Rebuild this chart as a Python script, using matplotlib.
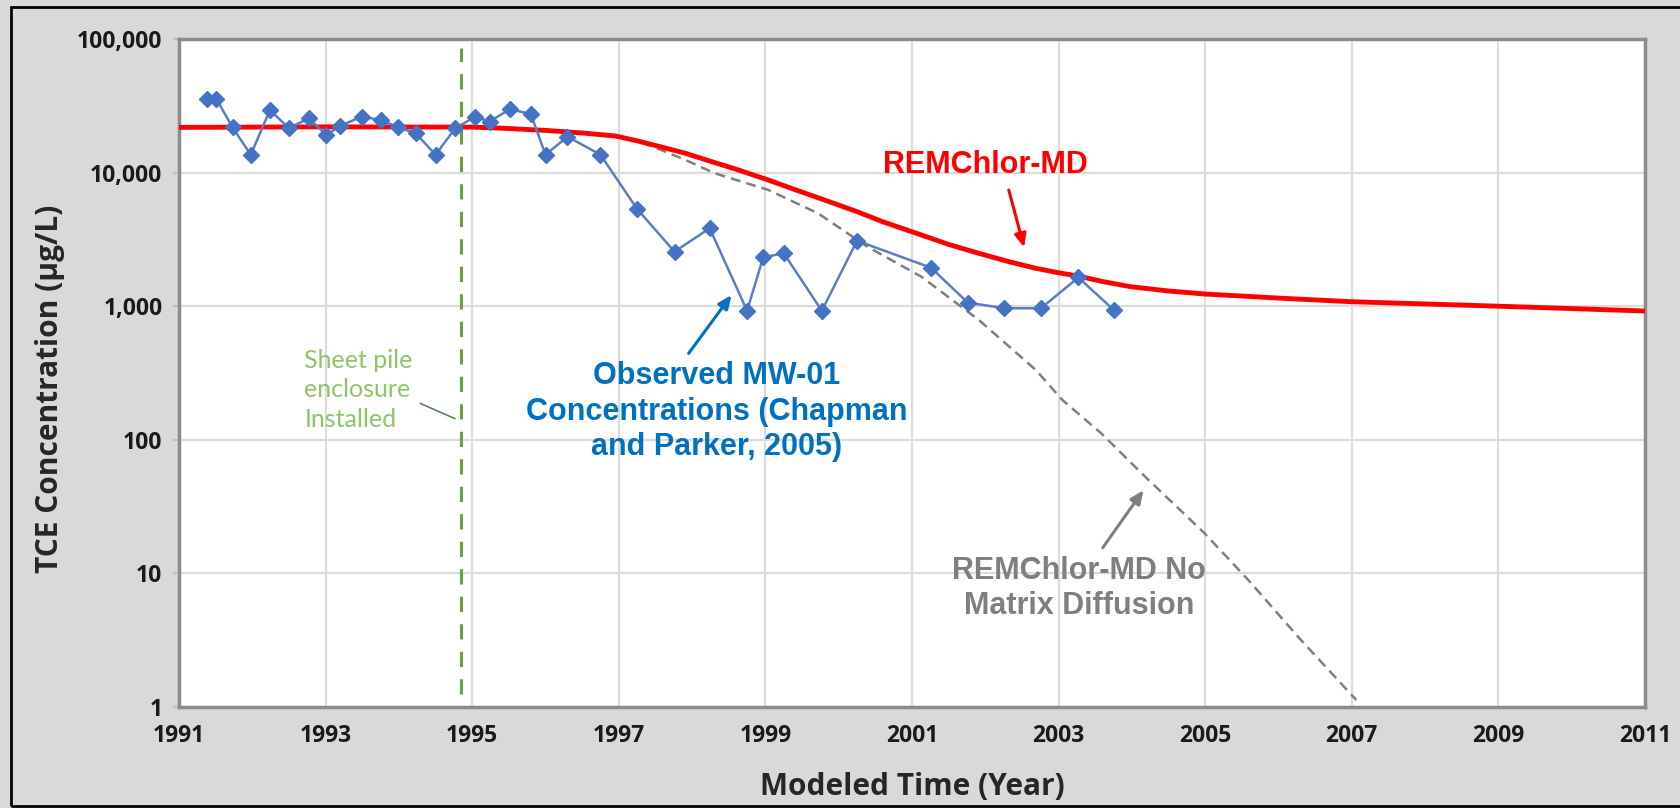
import numpy as np
import matplotlib.pyplot as plt
from matplotlib.patches import Rectangle
from matplotlib.ticker import NullLocator

# observed MW-01 concentrations (ug/L)
obs_year = [1991.38, 1991.51, 1991.73, 1991.98, 1992.24, 1992.50, 1992.77, 1993.01,
            1993.20, 1993.49, 1993.76, 1993.99, 1994.23, 1994.50, 1994.77, 1995.04,
            1995.24, 1995.51, 1995.80, 1996.00, 1996.30, 1996.75, 1997.25, 1997.76,
            1998.24, 1998.75, 1998.97, 1999.25, 1999.77, 2000.25, 2001.26, 2001.76,
            2002.26, 2002.76, 2003.27, 2003.75]
obs_conc = [35600, 35600, 21800, 13600, 29400, 21500, 25500, 19100,
            22400, 26200, 24800, 21800, 19700, 13600, 21500, 26200,
            24100, 29800, 27500, 13600, 18600, 13600, 5340, 2560,
            3830, 925, 2320, 2490, 925, 3090, 1940, 1065,
            965, 965, 1640, 940]

# REMChlor-MD model
md_year = [1991.0, 1993.0, 1995.0, 1995.4, 1996.0, 1996.5, 1996.95, 1997.25, 1997.57,
           1997.9, 1998.20, 1998.6, 1999.04, 1999.45, 1999.87, 2000.25, 2000.60,
           2001.13, 2001.5, 2001.91, 2002.3, 2002.69, 2003.0, 2003.27, 2003.6,
           2003.98, 2004.5, 2005.0, 2006.0, 2007.0, 2008.0, 2009.0, 2010.0, 2011.0]
md_conc = [21800, 22000, 21900, 21500, 20700, 19800, 18800, 17300, 15600,
           14000, 12400, 10600, 8800, 7300, 6060, 5100, 4290,
           3410, 2900, 2490, 2170, 1920, 1780, 1680, 1530,
           1400, 1300, 1233, 1150, 1080, 1040, 1000, 960, 920]

# REMChlor-MD without matrix diffusion
nomd_year = [1991.0, 1993.0, 1995.0, 1995.4, 1996.0, 1996.5, 1996.95, 1997.25, 1997.47,
             1997.9, 1998.31, 1999.04, 1999.72, 2000.39, 2001.13, 2001.91, 2002.69,
             2003.05, 2003.58, 2004.18, 2004.99, 2005.59, 2006.30, 2007.06]
nomd_conc = [21800, 22000, 21900, 21500, 20700, 19800, 18800, 17300, 15600,
             12500, 9880, 7420, 4950, 2790, 1660, 790, 333,
             199, 112, 53, 20, 8.9, 3.2, 1.13]

x_ticks = list(range(1991, 2012, 2))
x_labels = [str(x) for x in x_ticks]
y_ticks = [1, 10, 100, 1000, 10000, 100000]
y_labels = ["1", "10", "100", "1,000", "10,000", "100,000"]

sheet_pile_year = 1994.85

W, H = 1681, 808
fig = plt.figure(figsize=(W / 100, H / 100), dpi=100)
fig.patch.set_facecolor("#d9d9d9")
ax = fig.add_axes([179 / W, 1 - 707 / H, (1645 - 179) / W, (707 - 39) / H])
ax.set_facecolor("white")

ax.set_yscale("log")
ax.set_xlim(1991, 2011)
ax.set_ylim(1, 100000)

ax.tick_params(axis="x", length=0, pad=12, labelcolor="#1a1a1a")
ax.tick_params(axis="y", length=4, width=1.5, color="#bfbfbf", pad=8, labelcolor="#1a1a1a")
tick_font = dict(fontfamily="Open Sans", fontweight="bold", fontsize=16.5)
ax.set_xticks(x_ticks, x_labels, **tick_font)
ax.set_yticks(y_ticks, y_labels, **tick_font)
ax.yaxis.set_minor_locator(NullLocator())
ax.grid(True, color="#dcdcdc", lw=1.6)
ax.set_axisbelow(True)

for s in ax.spines.values():
    s.set_color("#8c8c8c")
    s.set_linewidth(2.5)

# model lines
ax.plot(nomd_year, nomd_conc, color="#808080", lw=1.8, dashes=(4, 2.4), zorder=3)
ax.plot(md_year, md_conc, color="#ff0000", lw=3.5, zorder=4)
ax.plot(obs_year, obs_conc, color="#5b7dc2", lw=1.8, marker="D", ms=8.5,
        mfc="#4472c4", mec="#4472c4", zorder=5)

# sheet pile line
ax.plot([sheet_pile_year, sheet_pile_year], [1.25, 85000], color="#6a9f45",
        lw=2.2, dashes=(5, 4), zorder=2)
ax.text(1992.71, 10 ** 2.373, "Sheet pile\nenclosure\nInstalled", color="#8ec46b",
        family="Lato", size=18, ha="left", va="center", linespacing=1.32)
ax.annotate("", xy=(sheet_pile_year - 0.05, 10 ** 2.15), xytext=(1994.26, 10 ** 2.28),
            arrowprops=dict(arrowstyle="-", color="#5f7f5f", lw=1.2))

bold = dict(family="Liberation Sans", weight="bold", size=22)

ax.text(1998.34, 10 ** 2.21, "Observed MW-01\nConcentrations (Chapman\nand Parker, 2005)",
        color="#0070c0", ha="center", va="center", linespacing=1.23, **bold)
ax.annotate("", xy=(1998.56, 10 ** 3.10), xytext=(1997.93, 10 ** 2.63),
            arrowprops=dict(arrowstyle="-|>,head_length=0.8,head_width=0.35",
                            color="#0070c0", lw=2.2))

ax.text(2002.0, 10 ** 4.057, "REMChlor-MD", color="#ff0000", ha="center", va="center", **bold)
ax.annotate("", xy=(2002.54, 10 ** 3.42), xytext=(2002.31, 10 ** 3.89),
            arrowprops=dict(arrowstyle="-|>,head_length=0.8,head_width=0.35",
                            color="#ff0000", lw=2.2))

ax.text(2003.28, 10 ** 0.885, "REMChlor-MD No\nMatrix Diffusion", color="#7f7f7f",
        ha="center", va="center", linespacing=1.23, **bold)
ax.annotate("", xy=(2004.18, 10 ** 1.64), xytext=(2003.58, 10 ** 1.175),
            arrowprops=dict(arrowstyle="-|>,head_length=0.8,head_width=0.35",
                            color="#7f7f7f", lw=2.2))

label_font = dict(family="Open Sans", weight="bold", size=21.5, color="#262626")
fig.text(50 / W, 1 - 389 / H, "TCE Concentration (µg/L)", rotation=90,
         ha="center", va="center", **label_font)
fig.text(912 / W, 1 - 787 / H, "Modeled Time (Year)", ha="center", va="center", **label_font)

# outer frame
fig.add_artist(Rectangle((11 / W, 2 / H), 1.0, 1 - 9 / H, transform=fig.transFigure,
                         fill=False, ec="black", lw=2, clip_on=False))

fig.savefig("out.png", dpi=100, facecolor=fig.get_facecolor())
